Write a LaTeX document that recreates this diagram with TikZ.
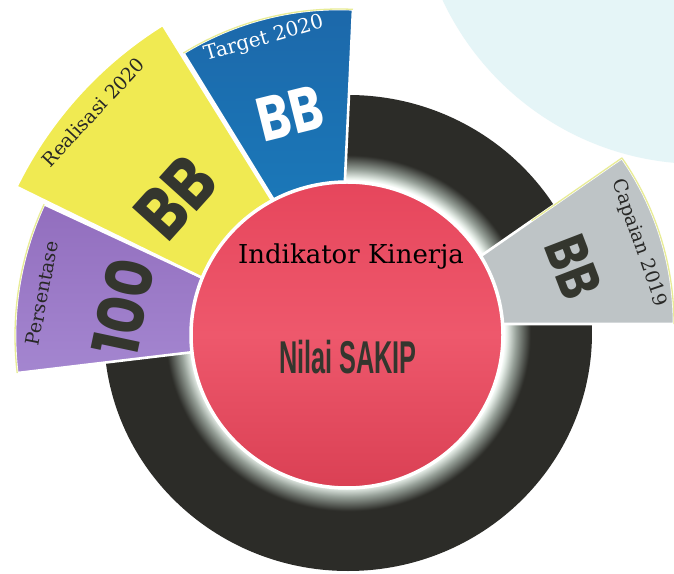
\documentclass[tikz,border=0pt]{standalone}
\usepackage{fontspec}
\setmainfont{DejaVu Serif}
\newfontfamily\chunky{Poppins}
\newfontfamily\narrowsans{Liberation Sans}
\definecolor{ringc}{RGB}{44,44,40}
\definecolor{glowc}{RGB}{230,238,232}
\definecolor{glowmid}{RGB}{150,160,152}
\definecolor{cyanbg}{RGB}{229,245,247}
\definecolor{purpletop}{RGB}{146,110,190}
\definecolor{purplebot}{RGB}{164,134,208}
\definecolor{yellowc}{RGB}{240,234,82}
\definecolor{bluetop}{RGB}{28,104,170}
\definecolor{bluebot}{RGB}{26,128,192}
\definecolor{greyc}{RGB}{190,196,198}
\definecolor{redtop}{RGB}{230,70,92}
\definecolor{redmid}{RGB}{238,88,108}
\definecolor{redbot}{RGB}{218,64,84}
\definecolor{edgec}{RGB}{232,236,150}
\definecolor{inkc}{RGB}{40,40,38}
\definecolor{grungec}{RGB}{52,54,46}
\pgfdeclareradialshading{ringglow}{\pgfpoint{0bp}{0bp}}{color(0bp)=(white); color(16bp)=(white); color(16.3bp)=(glowc); color(17.2bp)=(glowmid); color(18.7bp)=(ringc); color(50bp)=(ringc)}
\begin{document}
\begin{tikzpicture}[x=1pt,y=1pt,
  sector/.style={draw=white, line width=2.6pt, line join=round},
  rim/.style={draw=edgec, line width=1.3pt},
  lbl/.style={font=\fontsize{19}{21}\selectfont, inner sep=0pt},
  big/.style={inner sep=0pt}]
\useasboundingbox (0,0) rectangle (674,573);
\fill[white] (0,0) rectangle (674,573);
\fill[cyanbg] (700,693) circle[radius=284];
\shade[shading=ringglow] (348,240) ellipse[x radius=244, y radius=238];
% sectors
\path[sector, top color=purpletop, bottom color=purplebot] (328,237) -- ++(155.1:313) arc[start angle=155.1, end angle=186.8, radius=313] -- cycle;
\path[sector, top color=bluetop, bottom color=bluebot] (339,267) -- ++(87.3:297) arc[start angle=87.3, end angle=121.6, radius=297] -- cycle;
\path[sector, fill=greyc] (383,249) -- ++(0:291) arc[start angle=0, end angle=34.8, radius=291] -- cycle;
\path[sector, fill=yellowc] (372,212) -- ++(121.9:396) arc[start angle=121.9, end angle=153.9, radius=396] -- cycle;
% thin pale outer rims
\draw[rim] (328,237) ++(155.1:313) arc[start angle=155.1, end angle=186.8, radius=313];
\draw[rim] (339,267) ++(87.3:297) arc[start angle=87.3, end angle=121.6, radius=297];
\draw[rim] (383,249) ++(0:291) arc[start angle=0, end angle=34.8, radius=291];
\draw[rim] (383,249) ++(34.8:291) -- ++(214.8:110);
% red centre
\path[draw=white, line width=3.5pt, top color=redtop, bottom color=redbot, middle color=redmid] (347,238) ellipse[x radius=156, y radius=153];
% sector texts
\node[lbl, text=white, rotate=16, font=\fontsize{20}{22}\selectfont] (t1) at (264,534) {Target 2020};
\node[big, text=white, rotate=14, xscale=0.8, font=\chunky\bfseries\fontsize{62}{62}\selectfont] (b1) at (290,460) {BB};
\node[lbl, text=inkc, rotate=47] (t2) at (93,461) {Realisasi 2020};
\node[big, text=grungec, rotate=48, xscale=0.85, font=\chunky\bfseries\fontsize{72}{72}\selectfont] (b2) at (176,375) {BB};
\node[lbl, text=inkc, rotate=79] (t3) at (42,280) {Persentase};
\node[big, text=grungec, rotate=78, xscale=0.9, font=\chunky\bfseries\fontsize{64}{64}\selectfont] (b3) at (123,266) {100};
\node[lbl, text=inkc, rotate=-71] (t4) at (639,330) {Capaian 2019};
\node[big, text=grungec, rotate=-69, xscale=0.8, font=\chunky\bfseries\fontsize{58}{58}\selectfont] (b4) at (573,306) {BB};
% centre texts
\node[inner sep=0pt, text=black, font=\fontsize{26}{28}\selectfont] (ik) at (351,316) {Indikator Kinerja};
\node[inner sep=0pt, text=grungec, xscale=0.55, font=\narrowsans\bfseries\fontsize{46}{46}\selectfont] (ns) at (348,216) {Nilai SAKIP};
\end{tikzpicture}
\end{document}
